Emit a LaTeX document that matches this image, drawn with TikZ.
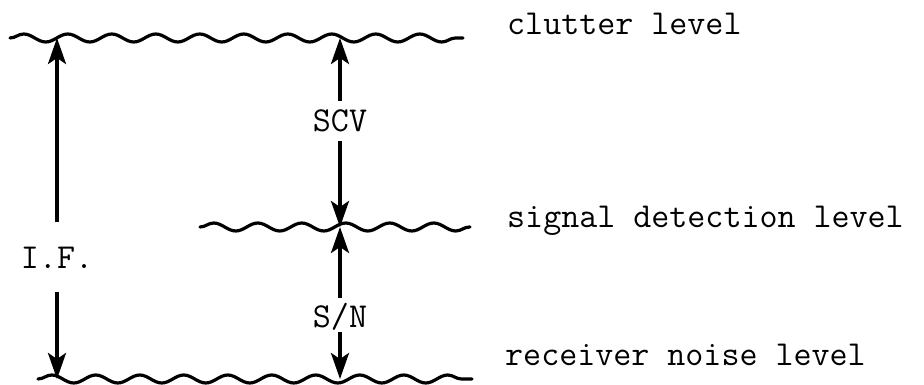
\documentclass[tikz,border=0pt]{standalone}
\usetikzlibrary{arrows.meta,decorations.pathmorphing}

\begin{document}
\begin{tikzpicture}[x=1pt, y=-1pt,
     nivel/.style={decorate, decoration={snake, segment length=44pt, amplitude=4pt},
                   line width=3.2pt, line cap=round},
     rotulo/.style={font=\fontsize{35}{40}\selectfont\ttfamily, inner sep=0pt},
     medida/.style={font=\fontsize{35}{40}\selectfont\ttfamily, text depth=0pt,
                    inner xsep=2pt, inner ysep=9pt, anchor=base},
     fl/.style={-{Stealth[length=26pt, width=18pt, inset=6pt]}, line width=3.5pt}]
    \useasboundingbox (0,0) rectangle (924,385);
    % levels
    \coordinate (c0) at (10,38);   \coordinate (c1) at (463,38);
    \coordinate (s0) at (200,227); \coordinate (s1) at (470,227);
    \coordinate (r0) at (38,379);  \coordinate (r1) at (472,379);
    \draw[nivel] (c0) -- (c1);
    \draw[nivel] (s0) -- (s1);
    \draw[nivel] (r0) -- (r1);
    \node[rotulo, anchor=base west] (clutter) at (507,35) {clutter level};
    \node[rotulo, anchor=base west] (signal) at (507,227) {signal detection level};
    \node[rotulo, anchor=base west] (noise) at (505,365) {receiver noise level};
    % arrow ends on the levels
    \coordinate (ifT) at (57,38);   \coordinate (ifB) at (57,379);
    \coordinate (scvT) at (340,38); \coordinate (sig) at (340,227);
    \coordinate (snB) at (340,379);
    \node[medida, inner ysep=24pt] (if) at (57,268) {I.F.};
    \node[medida] (scv) at (340,132) {SCV};
    \node[medida, inner ysep=5pt] (sn) at (340,327) {S/N};
    \draw[fl] (if) -- (ifT);
    \draw[fl] (if) -- (ifB);
    \draw[fl] (scv) -- (scvT);
    \draw[fl] (scv) -- (sig);
    \draw[fl] (sn) -- (sig);
    \draw[fl] (sn) -- (snB);
  \end{tikzpicture}
\end{document}
